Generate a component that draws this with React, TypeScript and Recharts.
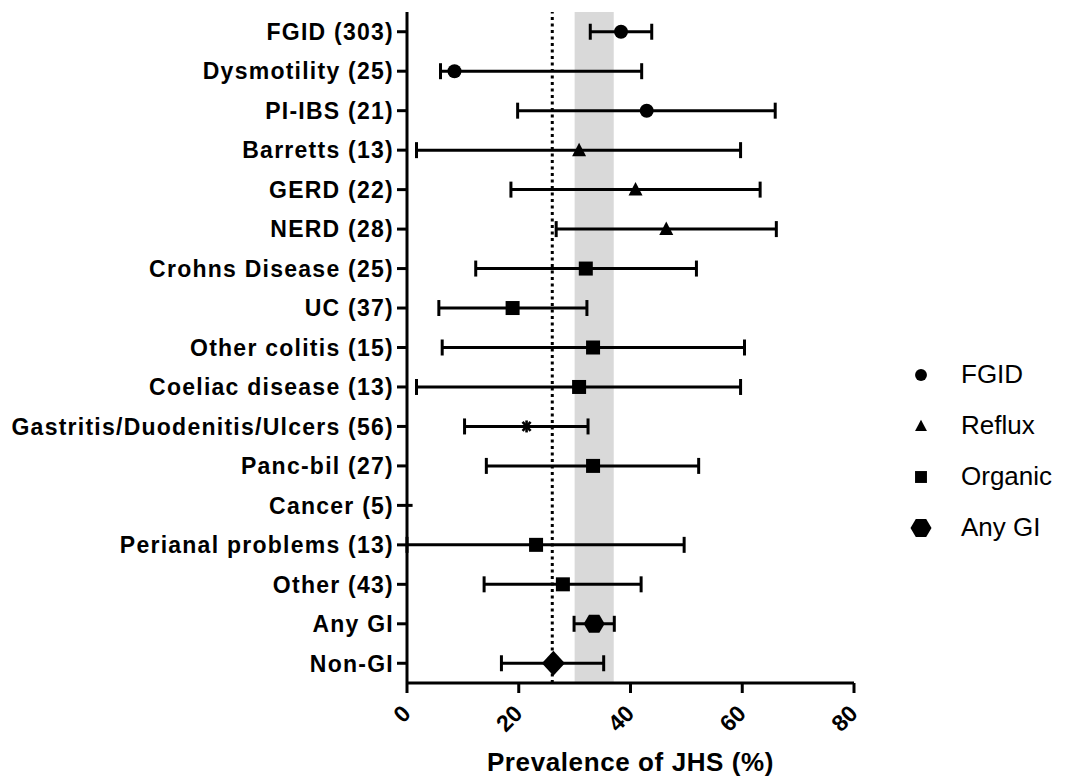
import React from 'react';
import {
  ScatterChart,
  Scatter,
  XAxis,
  YAxis,
  ErrorBar,
  ReferenceArea,
  ReferenceLine,
  Label,
} from 'recharts';

const categories = [
  'FGID (303)',
  'Dysmotility (25)',
  'PI-IBS (21)',
  'Barretts (13)',
  'GERD (22)',
  'NERD (28)',
  'Crohns Disease (25)',
  'UC (37)',
  'Other colitis (15)',
  'Coeliac disease (13)',
  'Gastritis/Duodenitis/Ulcers (56)',
  'Panc-bil (27)',
  'Cancer (5)',
  'Perianal problems (13)',
  'Other (43)',
  'Any GI',
  'Non-GI',
];
const groups = [
  'FGID', 'FGID', 'FGID',
  'Reflux', 'Reflux', 'Reflux',
  'Organic', 'Organic', 'Organic', 'Organic',
  'Gastritis',
  'Organic',
  'Cancer',
  'Organic', 'Organic',
  'AnyGI',
  'NonGI',
];
const prevalence = [38.3, 8.5, 42.9, 30.8, 40.9, 46.4, 32.0, 18.9, 33.3, 30.8, 21.4, 33.3, 0, 23.1, 27.9, 33.5, 26.2];
const lower = [32.8, 6.0, 19.8, 1.7, 18.6, 26.7, 12.3, 5.7, 6.3, 1.7, 10.3, 14.2, 0, 0, 13.8, 29.9, 16.9];
const upper = [43.8, 42.0, 65.9, 59.7, 63.2, 66.1, 51.8, 32.2, 60.4, 59.7, 32.4, 52.2, 1.0, 49.6, 41.9, 37.1, 35.2];
const xTicks = [0, 20, 40, 60, 80];
const nonGiLine = 26;
const anyGiBand = [30, 37];
const legendItems = [
  { key: 'FGID', label: 'FGID' },
  { key: 'Reflux', label: 'Reflux' },
  { key: 'Organic', label: 'Organic' },
  { key: 'AnyGI', label: 'Any GI' },
];

const FONT = '"Liberation Sans", Arial, sans-serif';

const rows = categories.map((name, i) => ({
  name,
  group: groups[i],
  x: prevalence[i],
  y: i,
  err: [prevalence[i] - lower[i], upper[i] - prevalence[i]],
}));

const byGroup = (g: string) => rows.filter((r) => r.group === g);

function marker(kind: string, cx: number, cy: number, s = 1) {
  switch (kind) {
    case 'FGID':
      return <circle cx={cx} cy={cy} r={7 * s} fill="#000" />;
    case 'Reflux':
      return (
        <polygon
          points={`${cx},${cy - 7.5 * s} ${cx + 7 * s},${cy + 6 * s} ${cx - 7 * s},${cy + 6 * s}`}
          fill="#000"
        />
      );
    case 'Organic':
      return <rect x={cx - 7 * s} y={cy - 7 * s} width={14 * s} height={14 * s} fill="#000" />;
    case 'AnyGI':
      return (
        <polygon
          points={`${cx - 10.5 * s},${cy} ${cx - 5.2 * s},${cy - 9 * s} ${cx + 5.2 * s},${cy - 9 * s} ${cx + 10.5 * s},${cy} ${cx + 5.2 * s},${cy + 9 * s} ${cx - 5.2 * s},${cy + 9 * s}`}
          fill="#000"
        />
      );
    case 'NonGI':
      return (
        <polygon
          points={`${cx},${cy - 12.5} ${cx + 11.5},${cy} ${cx},${cy + 12.5} ${cx - 11.5},${cy}`}
          fill="#000"
        />
      );
    case 'Gastritis':
      return (
        <g stroke="#000" strokeWidth={2.6}>
          <line x1={cx} y1={cy - 6} x2={cx} y2={cy + 6} />
          <line x1={cx - 5.5} y1={cy} x2={cx + 5.5} y2={cy} />
          <line x1={cx - 4} y1={cy - 4.5} x2={cx + 4} y2={cy + 4.5} />
          <line x1={cx - 4} y1={cy + 4.5} x2={cx + 4} y2={cy - 4.5} />
        </g>
      );
    default:
      return <g />;
  }
}

const shapeFor = (kind: string) => (props: any) => marker(kind, props.cx, props.cy);

function YTick(props: any) {
  const { x, y, payload } = props;
  return (
    <text
      x={x}
      y={y}
      dy="0.36em"
      textAnchor="end"
      fontFamily={FONT}
      fontWeight="bold"
      fontSize={23}
      letterSpacing={1.25}
      fill="#000"
    >
      {categories[payload.value]}
    </text>
  );
}

function XTick(props: any) {
  const { x, y, payload } = props;
  const ax = x + 5;
  const ay = y + 20;
  return (
    <text
      x={ax}
      y={ay}
      textAnchor="end"
      transform={`rotate(-45 ${ax} ${ay})`}
      fontFamily={FONT}
      fontWeight="bold"
      fontSize={23}
      fill="#000"
    >
      {payload.value}
    </text>
  );
}

const seriesKeys = ['FGID', 'Reflux', 'Organic', 'Gastritis', 'Cancer', 'AnyGI', 'NonGI'];

export default function App() {
  return (
    <div style={{ position: 'absolute', left: 0, top: 0, width: 1072, height: 781, background: '#fff' }}>
      <ScatterChart width={1072} height={781} margin={{ top: 12, right: 218, bottom: 0, left: 0 }}>
        <XAxis
          type="number"
          dataKey="x"
          domain={[0, 80]}
          ticks={xTicks}
          height={98}
          stroke="#000"
          strokeWidth={3}
          tickSize={10}
          tick={<XTick />}
        >
          <Label
            value="Prevalence of JHS (%)"
            position="insideBottom"
            offset={10}
            style={{ fontFamily: FONT, fontWeight: 'bold', fontSize: 26, fill: '#000', letterSpacing: 0.6 }}
          />
        </XAxis>
        <YAxis
          type="number"
          dataKey="y"
          domain={[-0.5, 16.5]}
          ticks={categories.map((_, i) => i)}
          reversed
          interval={0}
          width={407}
          stroke="#000"
          strokeWidth={3}
          tickSize={10}
          tickMargin={3}
          tick={<YTick />}
        />
        <ReferenceArea x1={anyGiBand[0]} x2={anyGiBand[1]} fill="#d9d9d9" fillOpacity={1} stroke="none" />
        <ReferenceLine x={nonGiLine} stroke="#000" strokeWidth={3} strokeDasharray="3 3.5" />
        {seriesKeys.map((k) => (
          <Scatter
            key={k}
            name={k}
            data={byGroup(k)}
            shape={shapeFor(k)}
            isAnimationActive={false}
          >
            <ErrorBar dataKey="err" direction="x" width={k === 'Cancer' ? 0 : 8} stroke="#000" strokeWidth={3} />
          </Scatter>
        ))}
      </ScatterChart>
      <div style={{ position: 'absolute', left: 905, top: 349, fontFamily: FONT, fontSize: 26, color: '#000' }}>
        {legendItems.map((it) => (
          <div key={it.key} style={{ display: 'flex', alignItems: 'center', height: 51 }}>
            <svg width={40} height={30} style={{ marginRight: 16 }}>
              {marker(it.key, 16, 15, it.key === 'AnyGI' ? 1 : 0.85)}
            </svg>
            <span>{it.label}</span>
          </div>
        ))}
      </div>
    </div>
  );
}
